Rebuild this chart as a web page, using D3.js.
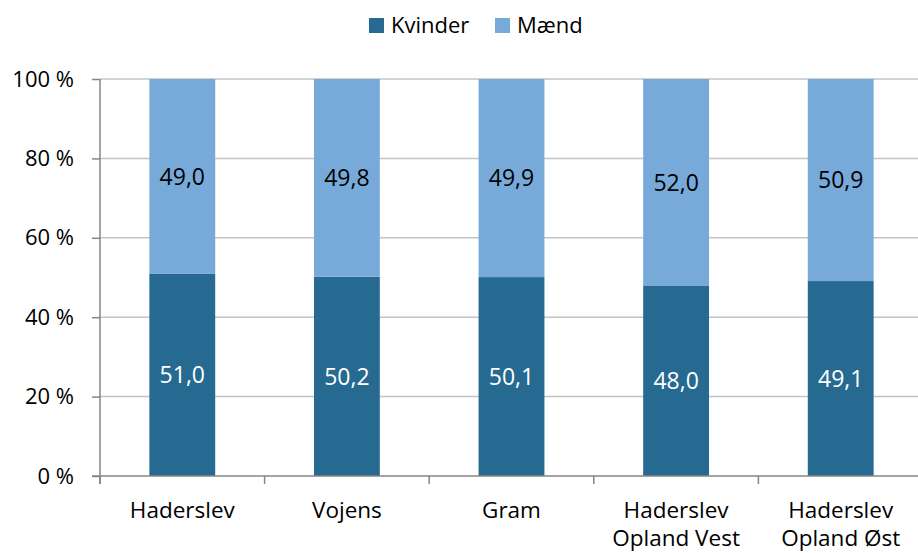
<!DOCTYPE html>
<html lang="da">
<head>
<meta charset="UTF-8" />
<title>Kvinder og mænd</title>
<script src="https://d3js.org/d3.v7.min.js"></script>
<style>
    body { margin: 0; background: #fff; }
    svg { display: block; font-family: "Open Sans", sans-serif; }
</style>
</head>
<body>
<div id="chart"></div>
<script>
    const categories = [["Haderslev"], ["Vojens"], ["Gram"], ["Haderslev", "Opland Vest"], ["Haderslev", "Opland Øst"]];
    const kvinder = [51.0, 50.2, 50.1, 48.0, 49.1];
    const maend = [49.0, 49.8, 49.9, 52.0, 50.9];
    const seriesNames = ["Kvinder", "Mænd"];
    const yTicks = [0, 20, 40, 60, 80, 100];
    const colors = ["#266991", "#77AAD9"];

    const W = 918, H = 553;
    const plot = { left: 100, top: 79, bottom: 476, right: 923 };

    const svg = d3.select("#chart").append("svg")
        .attr("width", W).attr("height", H);

    const x = d3.scaleBand()
        .domain(d3.range(categories.length))
        .range([plot.left, plot.right])
        .paddingInner(0.6).paddingOuter(0.3);

    const band = (plot.right - plot.left) / categories.length;

    const y = d3.scaleLinear().domain([0, 100]).range([plot.bottom, plot.top]);

    // gridlines
    svg.append("g").selectAll("line")
        .data(yTicks.filter(d => d > 0))
        .enter().append("line")
        .attr("x1", plot.left).attr("x2", plot.right)
        .attr("y1", d => y(d)).attr("y2", d => y(d))
        .attr("stroke", "#c4c4c4").attr("stroke-width", 1.5);

    const stacked = d3.stack().keys([0, 1])(kvinder.map((k, i) => ({ 0: k, 1: maend[i] })));

    const fmt = v => v.toFixed(1).replace(".", ",");

    stacked.forEach((layer, si) => {
        const g = svg.append("g");
        g.selectAll("rect")
            .data(layer)
            .enter().append("rect")
            .attr("x", (d, i) => x(i))
            .attr("width", x.bandwidth())
            .attr("y", d => y(d[1]))
            .attr("height", d => y(d[0]) - y(d[1]))
            .attr("fill", colors[si]);
        g.selectAll("text")
            .data(layer)
            .enter().append("text")
            .attr("x", (d, i) => x(i) + x.bandwidth() / 2)
            .attr("y", d => (y(d[0]) + y(d[1])) / 2)
            .attr("dy", "0.36em")
            .attr("text-anchor", "middle")
            .attr("font-size", 23)
            .attr("fill", si === 0 ? "#fff" : "#000")
            .text((d, i) => fmt(si === 0 ? kvinder[i] : maend[i]));
    });

    // y axis
    const yAxis = svg.append("g")
        .attr("transform", `translate(${plot.left},0)`)
        .call(d3.axisLeft(y).tickValues(yTicks).tickSize(8).tickPadding(18).tickFormat(d => d + " %"));
    yAxis.select(".domain").remove();
    yAxis.selectAll(".tick line").attr("stroke", "#868686").attr("stroke-width", 1.5);
    yAxis.selectAll(".tick text").attr("font-size", 22).attr("fill", "#000")
        .attr("font-family", "Open Sans, sans-serif");
    svg.append("line")
        .attr("x1", plot.left).attr("x2", plot.left).attr("y1", plot.top).attr("y2", plot.bottom + 8)
        .attr("stroke", "#868686").attr("stroke-width", 1.5);

    // x axis
    svg.append("line")
        .attr("x1", plot.left - 8).attr("x2", plot.right).attr("y1", plot.bottom).attr("y2", plot.bottom)
        .attr("stroke", "#868686").attr("stroke-width", 1.5);
    svg.append("g").selectAll("line")
        .data(d3.range(categories.length + 1))
        .enter().append("line")
        .attr("x1", i => plot.left + i * band).attr("x2", i => plot.left + i * band)
        .attr("y1", plot.bottom).attr("y2", plot.bottom + 8)
        .attr("stroke", "#868686").attr("stroke-width", 1.5);

    const xl = svg.append("g").selectAll("text")
        .data(categories)
        .enter().append("text")
        .attr("x", (d, i) => x(i) + x.bandwidth() / 2)
        .attr("y", 518)
        .attr("text-anchor", "middle")
        .attr("font-size", 22.5)
        .attr("fill", "#000");
    xl.selectAll("tspan")
        .data(d => d)
        .enter().append("tspan")
        .attr("x", function () { return this.parentNode.getAttribute("x"); })
        .attr("dy", (d, i) => i === 0 ? 0 : 28)
        .text(d => d);

    // legend
    const legendX = [369, 495];
    const lg = svg.append("g");
    seriesNames.forEach((name, i) => {
        lg.append("rect")
            .attr("x", legendX[i]).attr("y", 18)
            .attr("width", 15).attr("height", 15)
            .attr("fill", colors[i]);
        lg.append("text")
            .attr("x", legendX[i] + 22).attr("y", 33)
            .attr("font-size", 22)
            .attr("fill", "#000")
            .text(name);
    });
</script>
</body>
</html>
